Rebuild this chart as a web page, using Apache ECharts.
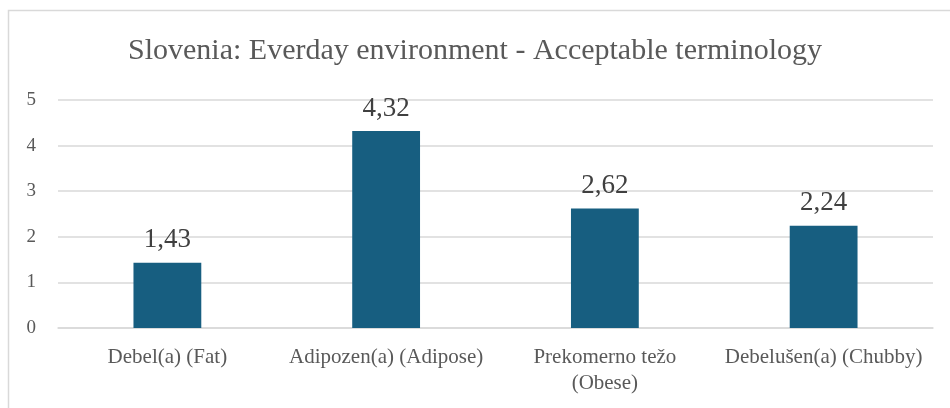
<!DOCTYPE html>
<html>
<head>
<meta charset="utf-8">
<script src="https://cdn.jsdelivr.net/npm/echarts@6/dist/echarts.min.js"></script>
<style>
  html, body { margin: 0; padding: 0; background: #fff; }
  #my { width: 950px; height: 408px; }
</style>
</head>
<body>
<div id="my"></div>
<script>
// 数据
var categories = ['Debel(a) (Fat)', 'Adipozen(a) (Adipose)', 'Prekomerno težo\n(Obese)', 'Debelušen(a) (Chubby)'];
var values = [1.43, 4.32, 2.62, 2.24];
var yTicks = [0, 1, 2, 3, 4, 5];

var font = '"Liberation Serif", "DejaVu Serif", serif';

var myChart = echarts.init(document.getElementById('my'));

var option = {
	animation: false,
	title: {
		text: 'Slovenia: Everday environment - Acceptable terminology',
		left: 'center',
		top: 31,
		textStyle: {
			color: '#595959',
			fontFamily: font,
			fontSize: 30,
			fontWeight: 'normal'
		}
	},
	graphic: [{
		type: 'rect',
		shape: { x: 8.5, y: 10.5, width: 960, height: 420 },
		style: { fill: 'none', stroke: '#d9d9d9', lineWidth: 1.5 },
		silent: true
	}],
	grid: {
		left: 58,
		right: 17,
		top: 100,
		bottom: 80
	},
	xAxis: {
		type: 'category',
		data: categories,
		axisTick: { show: false },
		axisLine: { lineStyle: { color: '#d9d9d9', width: 1.5 } },
		axisLabel: {
			color: '#595959',
			fontFamily: font,
			fontSize: 21,
			margin: 16,
			lineHeight: 26,
			interval: 0
		}
	},
	yAxis: {
		type: 'value',
		min: yTicks[0],
		max: yTicks[yTicks.length - 1],
		interval: 1,
		axisLine: { show: false },
		axisTick: { show: false },
		splitLine: { lineStyle: { color: '#d9d9d9', width: 1.5 } },
		axisLabel: {
			color: '#595959',
			fontFamily: font,
			fontSize: 19,
			margin: 22
		}
	},
	series: [{
		type: 'bar',
		data: values,
		barWidth: '31%',
		itemStyle: { color: '#175e80' },
		label: {
			show: true,
			position: 'top',
			distance: 9,
			color: '#404040',
			fontFamily: font,
			fontSize: 27,
			formatter: function (p) {
				return String(p.value).replace('.', ',');
			}
		}
	}]
};

myChart.setOption(option);
</script>
</body>
</html>
